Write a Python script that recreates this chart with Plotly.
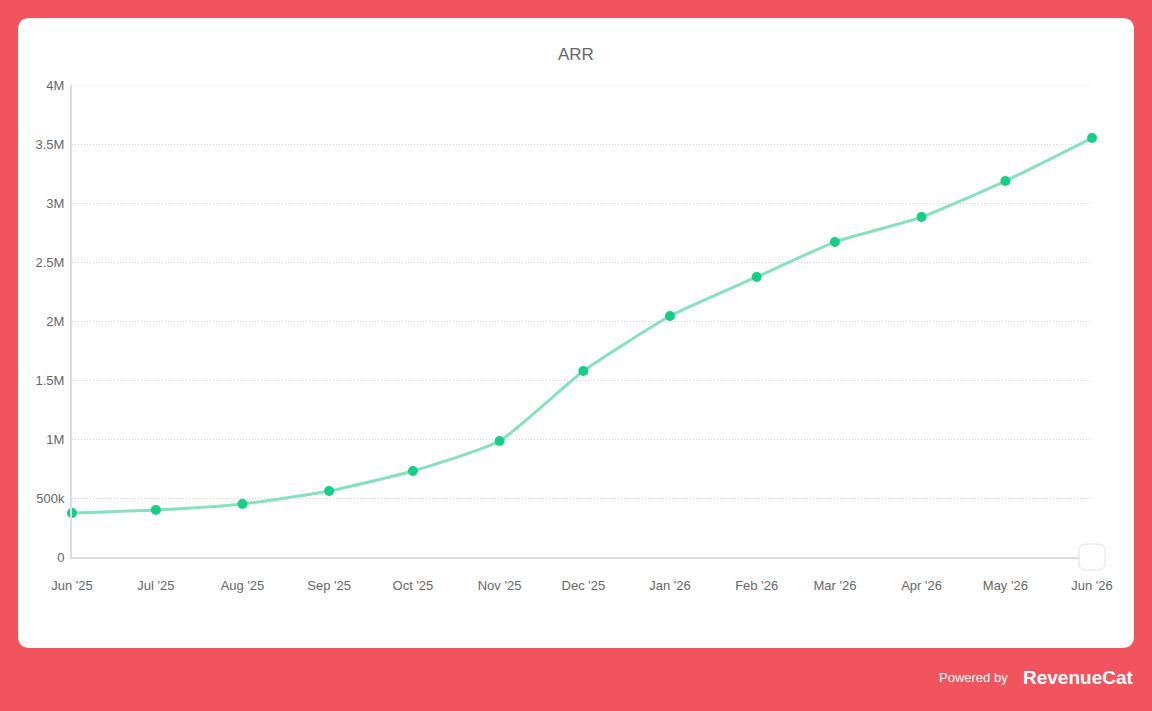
import plotly.graph_objects as go

months = ["2025-06-01", "2025-07-01", "2025-08-01", "2025-09-01", "2025-10-01", "2025-11-01",
          "2025-12-01", "2026-01-01", "2026-02-01", "2026-03-01", "2026-04-01", "2026-05-01",
          "2026-06-01"]
arr = [373000, 398000, 449000, 559000, 729000, 983000, 1576000, 2042000, 2373000, 2669000,
       2881000, 3186000, 3551000]
y_ticks = [0, 500000, 1000000, 1500000, 2000000, 2500000, 3000000, 3500000, 4000000]
y_labels = ["0", "500k", "1M", "1.5M", "2M", "2.5M", "3M", "3.5M", "4M"]
x_labels = ["Jun '25", "Jul '25", "Aug '25", "Sep '25", "Oct '25", "Nov '25", "Dec '25",
            "Jan '26", "Feb '26", "Mar '26", "Apr '26", "May '26", "Jun '26"]

W, H = 1152, 711
L, R, T, B = 72, 1092, 85, 557
pw, ph = R - L, B - T

def px(x):
    return (x - L) / pw

def py(y):
    return (B - y) / ph

fig = go.Figure()
fig.add_trace(go.Scatter(
    x=months, y=arr, mode="lines+markers",
    line=dict(color="#86E2BD", width=3, shape="spline", smoothing=0.5),
    marker=dict(color="#14CF85", size=10),
    hoverinfo="x+y", showlegend=False, cliponaxis=False,
))

def rounded(x0, y0, x1, y1, r):
    return (f"M{x0+r},{y0} L{x1-r},{y0} Q{x1},{y0} {x1},{y0+r} L{x1},{y1-r} "
            f"Q{x1},{y1} {x1-r},{y1} L{x0+r},{y1} Q{x0},{y1} {x0},{y1-r} "
            f"L{x0},{y0+r} Q{x0},{y0} {x0+r},{y0} Z")

shapes = [
    # white card
    dict(type="path", xref="paper", yref="paper", xsizemode="pixel", ysizemode="pixel",
         xanchor=0, yanchor=0,
         path=rounded(18 - L, B - 648, 1134 - L, B - 18, 12),
         fillcolor="white", line=dict(width=0), layer="below"),
    # top grid line (at range edge)
    dict(type="line", xref="paper", yref="y", x0=0, x1=1, y0=y_ticks[-1], y1=y_ticks[-1],
         line=dict(color="#D4D4D4", width=1, dash="1px,2px"), layer="below"),
    # small rounded box at axis end
    dict(type="path", xref="paper", yref="paper", xsizemode="pixel", ysizemode="pixel",
         xanchor=1, yanchor=0,
         path=rounded(-13, -13, 13, 13, 7),
         fillcolor="white", line=dict(color="#E2E2E2", width=1), layer="above"),
]

annotations = [
    dict(text="ARR", x=px(576), y=py(55), xref="paper", yref="paper", showarrow=False,
         font=dict(size=17, color="#666666"), xanchor="center", yanchor="middle"),
    dict(text="Powered by", x=px(1010), y=py(677), xref="paper", yref="paper", showarrow=False,
         font=dict(size=13, color="white"), xanchor="right", yanchor="middle"),
    dict(text="<b>RevenueCat</b>", x=px(1135), y=py(677), xref="paper", yref="paper",
         showarrow=False, font=dict(size=19, color="white"), xanchor="right", yanchor="middle"),
]

fig.update_layout(
    width=W, height=H,
    margin=dict(l=L, r=W - R, t=T, b=H - B, pad=0),
    paper_bgcolor="#F2545F", plot_bgcolor="rgba(0,0,0,0)",
    font=dict(family="Liberation Sans, Arial, sans-serif", size=13, color="#666666"),
    shapes=shapes, annotations=annotations,
    xaxis=dict(
        type="date", range=[months[0], months[-1]],
        tickvals=months, ticktext=x_labels, ticks="", showgrid=False,
        showline=True, linecolor="#DDDDDD", linewidth=2, zeroline=False,
        tickfont=dict(size=13, color="#666666"), ticklabelstandoff=15,
    ),
    yaxis=dict(
        range=[0, 4000000], tickvals=y_ticks, ticktext=y_labels, ticks="",
        showgrid=True, gridcolor="#D4D4D4", griddash="1px,2px", gridwidth=1,
        showline=True, linecolor="#DDDDDD", linewidth=2, zeroline=False,
        tickfont=dict(size=13, color="#666666"), ticklabelstandoff=3,
    ),
)

fig.write_html("out.html", config={"displayModeBar": False})
